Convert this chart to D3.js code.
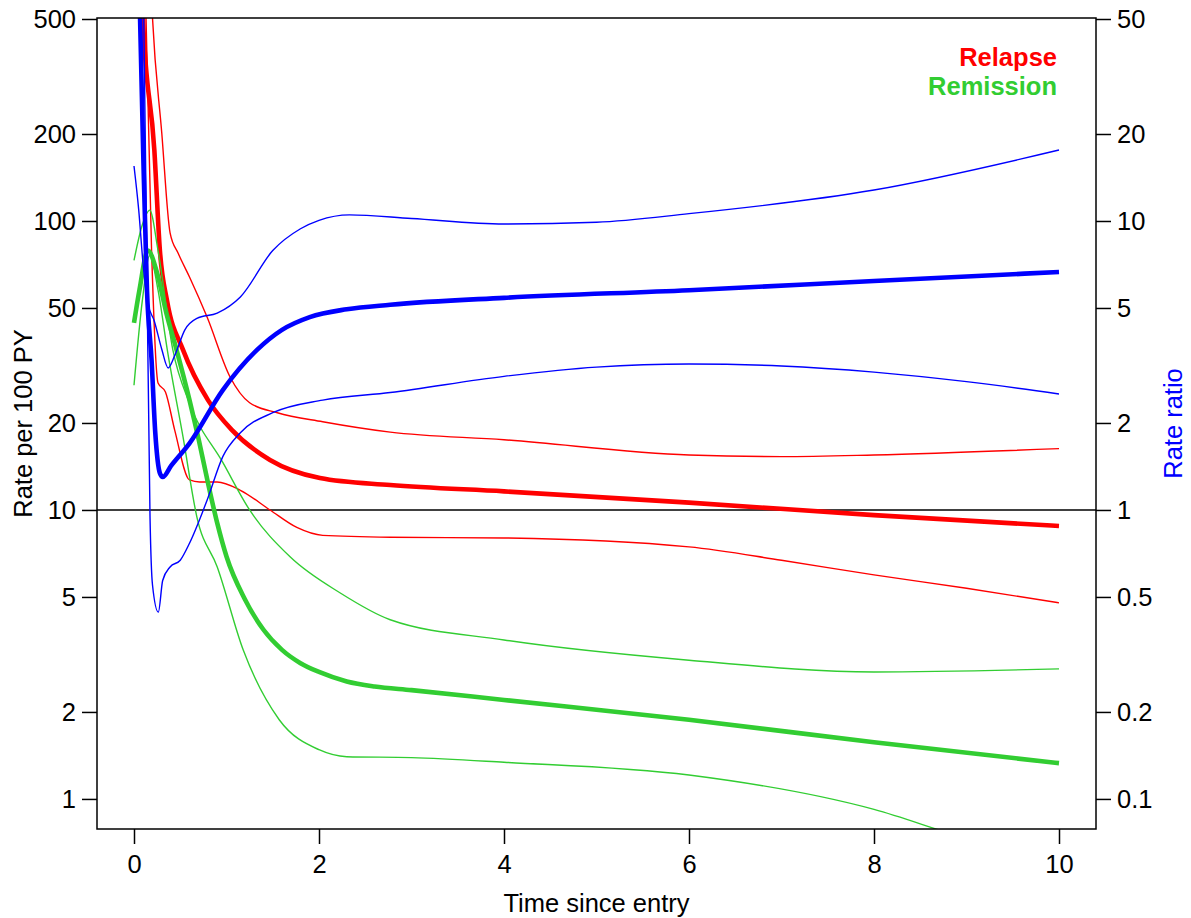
<!DOCTYPE html>
<html>
<head>
<meta charset="utf-8">
<script src="https://cdn.jsdelivr.net/npm/d3@7"></script>
<style>
  body { margin: 0; background: #fff; }
  svg { display: block; }
  text { font-family: "Liberation Sans", Arial, sans-serif; }
</style>
</head>
<body>
<svg id="chart" width="1191" height="918"></svg>
<script>
// ---- data (time in years, rate per 100 PY; rate ratio stored on the x10 scale) ----
const relapseEst = [[0.07, 1200], [0.097, 504], [0.22, 176], [0.28, 79], [0.357, 53], [0.53, 35.8], [0.8, 24], [1.06, 18.9], [1.47, 14.9], [2.01, 12.9], [2.77, 12.2], [4, 11.6], [6, 10.6], [8, 9.6], [10, 8.8]];
const relapseHi = [[0.15, 1200], [0.2, 504], [0.3, 202], [0.39, 91], [0.48, 77], [0.6, 64], [0.79, 46.5], [1.04, 28.8], [1.25, 23.5], [1.55, 21.7], [2.04, 20.2], [2.77, 18.6], [4, 17.5], [6, 15.5], [7, 15.3], [8, 15.5], [10, 16.3]];
const relapseLo = [[0.1, 1000], [0.13, 504], [0.19, 79], [0.26, 27.5], [0.34, 25.6], [0.44, 18.9], [0.6, 12.7], [0.71, 12.5], [0.9, 12.5], [1.15, 11.7], [1.47, 10], [1.76, 8.7], [2.04, 8.17], [2.77, 8.05], [4, 8.0], [6, 7.45], [7, 6.7], [8, 5.96], [9, 5.36], [10, 4.77]];

const remissionEst = [[0, 44.4], [0.06, 58], [0.15, 79], [0.25, 66], [0.35, 48], [0.46, 35.8], [0.6, 24], [0.7, 17.5], [0.8, 12.4], [0.9, 9.0], [1.0, 6.9], [1.2, 4.9], [1.4, 3.85], [1.6, 3.28], [1.8, 2.95], [2.0, 2.75], [2.3, 2.55], [2.6, 2.45], [3, 2.38], [4, 2.2], [6, 1.88], [8, 1.57], [10, 1.33]];
const remissionHi = [[0, 73], [0.09, 97], [0.17, 109], [0.26, 79], [0.42, 35.8], [0.6, 23.4], [0.96, 14.6], [1.25, 10], [1.69, 6.87], [2.23, 5.16], [2.77, 4.17], [4, 3.55], [6, 3.02], [8, 2.75], [10, 2.82]];
const remissionLo = [[0, 27], [0.09, 53], [0.17, 76], [0.26, 57.6], [0.36, 35.8], [0.53, 17.9], [0.68, 9.45], [0.9, 6.35], [1.18, 3.28], [1.57, 1.88], [2, 1.48], [2.3, 1.4], [3, 1.39], [4, 1.34], [6, 1.21], [8, 0.92], [9, 0.73], [10, 0.61]];

const ratioEst = [[0.06, 600], [0.1, 170], [0.14, 58], [0.19, 33], [0.23, 18.5], [0.28, 13.4], [0.31, 13.0], [0.4, 14.2], [0.6, 17.0], [0.96, 26], [1.33, 35.8], [1.6, 42], [1.9, 46.5], [2.3, 49.5], [2.77, 51.3], [4, 54.2], [6, 57.6], [8, 62], [10, 66.6]];
const ratioHi = [[0, 155], [0.05, 110], [0.1, 70], [0.15, 52], [0.22, 45], [0.3, 36], [0.37, 31], [0.44, 34.2], [0.55, 42], [0.68, 46], [0.9, 48], [1.15, 54.6], [1.5, 79], [1.8, 94], [2, 100.5], [2.33, 105], [3, 102], [4, 97.6], [5, 99], [6, 106], [8, 128], [10, 176]];
const ratioLo = [[0.1, 700], [0.137, 79], [0.173, 9.5], [0.2, 5.5], [0.263, 4.43], [0.31, 5.7], [0.39, 6.35], [0.5, 6.7], [0.6, 7.67], [0.79, 10.8], [0.96, 15.3], [1.15, 18.5], [1.5, 21.7], [2.04, 24], [2.77, 25.5], [4, 29], [5, 31.2], [6, 32], [7, 31.5], [8, 30], [9, 27.8], [10, 25.2]];

const xTicks = [0, 2, 4, 6, 8, 10];
const yTicks = [1, 2, 5, 10, 20, 50, 100, 200, 500];
const legendLabels = ['Relapse', 'Remission'];

// ---- layout ----
const W = 1191, H = 918;
const MARGIN = { top: 18, right: 95, bottom: 89, left: 97 };
const FONT_SIZE = '25.5px';
const RED = '#FF0000', GREEN = '#32CD32', BLUE = '#0000FF';

const svg = d3.select('#chart');

const x = d3.scaleLinear()
    .domain([-0.4, 10.4])
    .range([MARGIN.left, W - MARGIN.right]);

const y = d3.scaleLog()
    .domain([0.787, 504])
    .range([H - MARGIN.bottom, MARGIN.top]);

svg.append('clipPath')
    .attr('id', 'plot-clip')
    .append('rect')
    .attr('x', MARGIN.left)
    .attr('y', MARGIN.top)
    .attr('width', W - MARGIN.left - MARGIN.right)
    .attr('height', H - MARGIN.top - MARGIN.bottom);

const plot = svg.append('g').attr('clip-path', 'url(#plot-clip)');

// reference line at rate 10 / ratio 1
plot.append('line')
    .attr('x1', MARGIN.left)
    .attr('x2', W - MARGIN.right)
    .attr('y1', y(10))
    .attr('y2', y(10))
    .attr('stroke', '#000')
    .attr('stroke-width', 1.4);

const line = d3.line()
    .x(d => x(d[0]))
    .y(d => y(d[1]))
    .curve(d3.curveMonotoneX);

const curves = [
    { data: relapseHi, color: RED, width: 1.4 },
    { data: relapseLo, color: RED, width: 1.4 },
    { data: relapseEst, color: RED, width: 4.6 },
    { data: remissionHi, color: GREEN, width: 1.4 },
    { data: remissionLo, color: GREEN, width: 1.4 },
    { data: remissionEst, color: GREEN, width: 4.6 },
    { data: ratioHi, color: BLUE, width: 1.4 },
    { data: ratioLo, color: BLUE, width: 1.4 },
    { data: ratioEst, color: BLUE, width: 4.6 }
];

plot.selectAll('path.curve')
    .data(curves)
    .enter()
    .append('path')
    .attr('class', 'curve')
    .attr('d', d => line(d.data))
    .attr('fill', 'none')
    .attr('stroke', d => d.color)
    .attr('stroke-width', d => d.width)
    .attr('stroke-linejoin', 'round');

// box
svg.append('rect')
    .attr('x', MARGIN.left)
    .attr('y', MARGIN.top)
    .attr('width', W - MARGIN.left - MARGIN.right)
    .attr('height', H - MARGIN.top - MARGIN.bottom)
    .attr('fill', 'none')
    .attr('stroke', '#000')
    .attr('stroke-width', 1.5);

// axes
function styleAxis(g) {
    g.select('.domain').remove();
    g.selectAll('.tick line').attr('stroke', '#000').attr('stroke-width', 1.5);
    g.selectAll('.tick text')
        .attr('fill', '#000')
        .style('font-size', FONT_SIZE)
        .style('font-family', '"Liberation Sans", Arial, sans-serif');
}

svg.append('g')
    .attr('transform', `translate(${MARGIN.left},0)`)
    .call(d3.axisLeft(y).tickValues(yTicks).tickFormat(d => d).tickSize(15).tickPadding(6))
    .call(styleAxis);

svg.append('g')
    .attr('transform', `translate(${W - MARGIN.right},0)`)
    .call(d3.axisRight(y).tickValues(yTicks).tickFormat(d => d / 10).tickSize(15).tickPadding(6))
    .call(styleAxis);

svg.append('g')
    .attr('transform', `translate(0,${H - MARGIN.bottom})`)
    .call(d3.axisBottom(x).tickValues(xTicks).tickFormat(d => d).tickSize(15).tickPadding(11))
    .call(styleAxis);

// axis titles
svg.append('text')
    .attr('x', x(5))
    .attr('y', 912)
    .attr('text-anchor', 'middle')
    .style('font-size', FONT_SIZE)
    .text('Time since entry');

const midY = (MARGIN.top + H - MARGIN.bottom) / 2;

svg.append('text')
    .attr('transform', `translate(32,${midY}) rotate(-90)`)
    .attr('text-anchor', 'middle')
    .style('font-size', FONT_SIZE)
    .text('Rate per 100 PY');

svg.append('text')
    .attr('transform', `translate(1182,${midY}) rotate(-90)`)
    .attr('text-anchor', 'middle')
    .style('font-size', FONT_SIZE)
    .attr('fill', BLUE)
    .text('Rate ratio');

// legend
svg.selectAll('text.legend')
    .data(legendLabels)
    .enter()
    .append('text')
    .attr('class', 'legend')
    .attr('x', 1057)
    .attr('y', (d, i) => 66 + i * 29)
    .attr('text-anchor', 'end')
    .style('font-size', FONT_SIZE)
    .style('font-weight', 'bold')
    .attr('fill', (d, i) => i === 0 ? RED : GREEN)
    .text(d => d);
</script>
</body>
</html>
